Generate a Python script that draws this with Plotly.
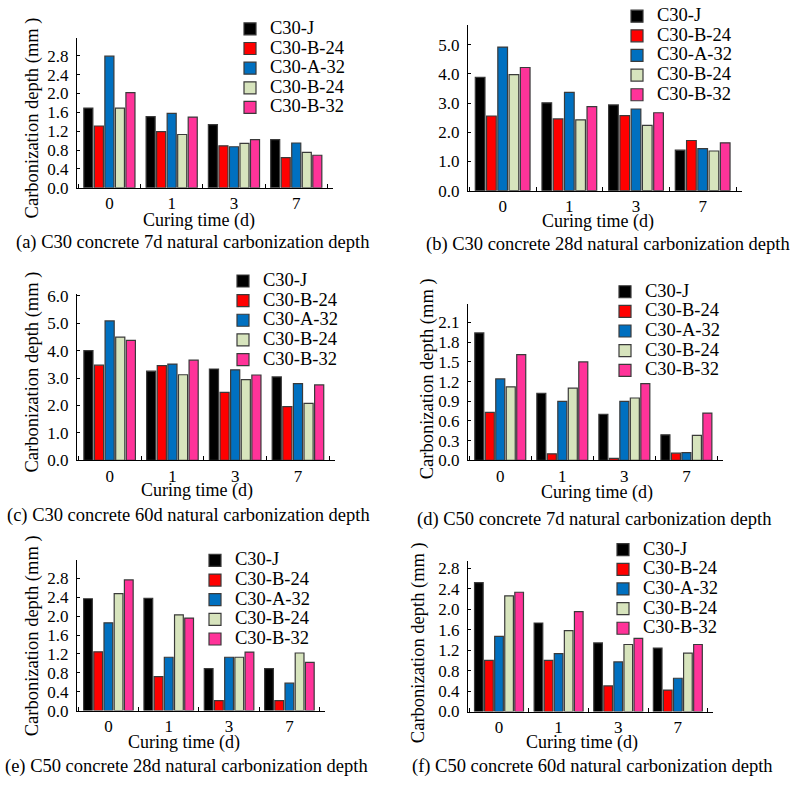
import plotly.graph_objects as go

W, H = 799, 787
FONT = "Liberation Serif, Times New Roman, serif"

categories = ["0", "1", "3", "7"]
series_names = ["C30-J", "C30-B-24", "C30-A-32", "C30-B-24", "C30-B-32"]
series_colors = ["#000000", "#ff0000", "#0070c0", "#d7e4bd", "#ff3399"]

# values per panel: one list per series, in the order of series_names
panel_a = [[1.69, 1.51, 1.34, 1.02], [1.31, 1.19, 0.89, 0.64], [2.79, 1.58, 0.87, 0.95],
           [1.69, 1.13, 0.94, 0.75], [2.02, 1.50, 1.02, 0.69]]
panel_b = [[3.88, 3.01, 2.94, 1.39], [2.56, 2.46, 2.57, 1.72], [4.92, 3.37, 2.80, 1.44],
           [3.98, 2.43, 2.24, 1.36], [4.22, 2.88, 2.67, 1.64]]
panel_c = [[4.00, 3.25, 3.33, 3.04], [3.47, 3.45, 2.48, 1.96], [5.08, 3.51, 3.30, 2.80],
           [4.49, 3.12, 2.94, 2.08], [4.37, 3.65, 3.11, 2.75]]
panel_d = [[1.94, 1.02, 0.70, 0.39], [0.73, 0.10, 0.03, 0.11], [1.24, 0.90, 0.90, 0.12],
           [1.12, 1.10, 0.95, 0.38], [1.61, 1.50, 1.17, 0.72]]
panel_e = [[2.37, 2.38, 0.89, 0.89], [1.245, 0.72, 0.21, 0.21], [1.86, 1.13, 1.13, 0.58],
           [2.48, 2.03, 1.13, 1.22], [2.77, 1.96, 1.24, 1.02]]
panel_f = [[2.52, 1.73, 1.34, 1.24], [1.00, 1.00, 0.50, 0.42], [1.47, 1.13, 0.97, 0.65],
           [2.26, 1.58, 1.31, 1.14], [2.33, 1.95, 1.43, 1.31]]

captions = [
    "(a) C30 concrete 7d natural carbonization depth",
    "(b) C30 concrete 28d natural carbonization depth",
    "(c) C30 concrete 60d natural carbonization depth",
    "(d) C50 concrete 7d natural carbonization depth",
    "(e) C50 concrete 28d natural carbonization depth",
    "(f) C50 concrete 60d natural carbonization depth",
]
x_title = "Curing time (d)"
y_title = "Carbonization depth (mm )"

# y tick specs (max tick, step) and y-axis maxima
y_ticks = [(2.8, 0.4), (5.0, 1.0), (6.0, 1.0), (2.1, 0.3), (2.8, 0.4), (2.8, 0.4)]
y_max = [3.17, 5.69, 6.05, 2.38, 3.19, 2.94]

# layout (pixels): plot left, right, top, bottom
boxes = [(77, 333, 31, 184), (468, 742, 17, 187), (77, 335, 293, 463),
         (468, 723, 303, 463), (77, 325, 565, 719), (468, 713, 566, 720)]
# legend: text start x, first row centre y
legend_pos = [(270, 21), (657, 8), (263, 279), (645, 290), (235, 565), (643, 554)]
# y title centre (x, y) or None
ytitle_pos = [(32, 113), None, (32, 373), (427, 380), (32, 643), (418, 650)]
xtitle_pos = [(199, 217), (598, 219), (197, 494), (597, 496), (184, 752), (582, 752)]
caption_pos = [(192, 240), (608, 242), (188, 519), (594, 523), (186, 776), (592, 776)]

panels = [panel_a, panel_b, panel_c, panel_d, panel_e, panel_f]

fig = go.Figure()
annotations = []
layout = {}
for p, data in enumerate(panels):
    n = "" if p == 0 else str(p + 1)
    lg = "legend" if p == 0 else "legend" + str(p + 1)
    for s, vals in enumerate(data):
        fig.add_trace(go.Bar(
            x=categories, y=vals,
            name='<span style="font-size:18.5px">' + series_names[s] + '</span>',
            marker=dict(color=series_colors[s], line=dict(color="#3a3a3a", width=1.2)),
            xaxis="x" + n, yaxis="y" + n, legend=lg, showlegend=True,
        ))
    l, r, t, b = boxes[p]
    tmax, step = y_ticks[p]
    nt = int(round(tmax / step))
    tv = [round(i * step, 2) for i in range(nt + 1)]
    layout["xaxis" + n] = dict(
        domain=[l / W, r / W], anchor="y" + n, type="category",
        range=[-0.52, 3.59], showline=True, linecolor="black", linewidth=1,
        ticks="inside", tickson="boundaries", ticklen=4, tickcolor="black",
        showgrid=False, zeroline=False,
        tickfont=dict(family=FONT, size=17, color="black"),
    )
    layout["yaxis" + n] = dict(
        domain=[1 - b / H, 1 - t / H], anchor="x" + n,
        range=[0, y_max[p]], showline=True, linecolor="black", linewidth=1,
        ticks="inside", ticklen=3, tickcolor="black",
        tickvals=tv, ticktext=["%.1f" % v for v in tv],
        showgrid=False, zeroline=False, ticklabelstandoff=4,
        tickfont=dict(family=FONT, size=17, color="black"),
    )
    tx, ty = legend_pos[p]
    layout[lg] = dict(
        x=(tx - 40) / W, y=1 - (ty - 14.8) / H, xanchor="left", yanchor="top",
        bgcolor="rgba(0,0,0,0)", borderwidth=0,
        font=dict(family=FONT, size=12.8, color="black"),
        itemclick=False, itemdoubleclick=False,
    )
    if ytitle_pos[p] is not None:
        yx, yy = ytitle_pos[p]
        annotations.append(dict(
            x=yx / W, y=1 - yy / H, xref="paper", yref="paper", text=y_title,
            textangle=-90, showarrow=False, xanchor="center", yanchor="middle",
            font=dict(family=FONT, size=18.5, color="black")))
    xx, xy = xtitle_pos[p]
    annotations.append(dict(
        x=xx / W, y=1 - xy / H, xref="paper", yref="paper", text=x_title,
        showarrow=False, xanchor="center", yanchor="middle",
        font=dict(family=FONT, size=18, color="black")))
    cx, cy = caption_pos[p]
    annotations.append(dict(
        x=cx / W, y=1 - cy / H, xref="paper", yref="paper", text=captions[p],
        showarrow=False, xanchor="center", yanchor="middle",
        font=dict(family=FONT, size=18.5, color="black")))

fig.update_layout(
    width=W, height=H, margin=dict(l=0, r=0, t=0, b=0),
    paper_bgcolor="white", plot_bgcolor="white",
    barmode="group", bargap=0.155, bargroupgap=0.14,
    annotations=annotations, **layout,
)
fig.write_html(
    "out.html",
    post_script="document.body.style.margin='0';document.documentElement.style.overflow='hidden';",
)
